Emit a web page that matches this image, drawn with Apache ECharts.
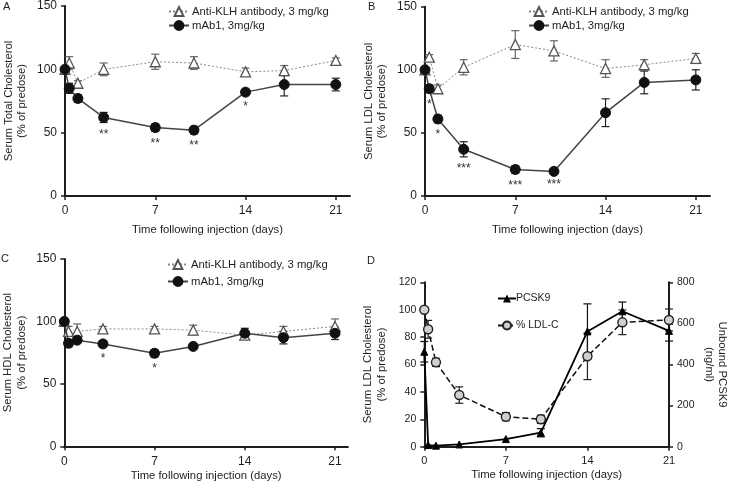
<!DOCTYPE html>
<html><head><meta charset="utf-8">
<script src="https://cdn.jsdelivr.net/npm/echarts@6/dist/echarts.min.js"></script>
<style>html,body{margin:0;padding:0;background:#fff}#c{width:730px;height:488px}</style>
</head><body><div id="c"></div>
<script>
// ---------- data ----------
const days = [0, 0.33, 1, 3, 7, 10, 14, 17, 21];
const xTicks = [0, 7, 14, 21];
const yTicksABC = [0, 50, 100, 150];
const yTicksDLeft = [0, 20, 40, 60, 80, 100, 120];
const yTicksDRight = [0, 200, 400, 600, 800];

const klhName = 'Anti-KLH antibody, 3 mg/kg';
const mabName = 'mAb1, 3mg/kg';

// Panel A: Serum total cholesterol
const klhA = [100, 105, 89, 100, 106, 105, 98, 99, 107];
const klhAErr = [0, 5, 2, 5, 6, 5, 3, 4, 2];
const mabA = [100, 85, 77, 62, 54, 52, 82, 88, 88];
const mabAErr = [0, 4, 3, 4, 3, 3, 2, 9, 5];
const starsA = ['', '', '', '**', '**', '**', '*', '', ''];

// Panel B: Serum LDL cholesterol
const klhB = [100, 110, 85, 102, 120, 115, 101, 104, 109];
const klhBErr = [0, 2, 3, 6, 11, 8, 7, 4, 4];
const mabB = [100, 85, 61, 37, 21, 19.5, 66, 90, 92];
const mabBErr = [0, 3, 3, 6, 3, 1, 11, 9, 8];
const starsB = ['', '*', '*', '***', '***', '***', '', '', ''];

// Panel C: Serum HDL cholesterol
const klhC = [100, 92, 92, 94, 94, 93, 89, 92, 96];
const klhCErr = [0, 4, 6, 2, 2, 4, 3, 4, 6];
const mabC = [100, 82.5, 85, 82, 74.5, 80, 90.5, 87, 90.5];
const mabCErr = [0, 3, 2, 2, 3, 2, 4, 5, 5];
const starsC = ['', '', '', '*', '*', '', '', '', ''];

// Panel D: PCSK9 vs %LDL-C
const ldlD = [100, 85.7, 61.6, 37.7, 21.9, 20, 66, 90.8, 92.5];
const ldlDErr = [0, 6.5, 3, 6, 3, 3, 17, 9, 8];
const pcsk9 = [462, 8, 5, 11, 37, 68, 561, 659, 564];
const pcsk9Err = [50, 0, 0, 0, 0, 20, 134, 45, 50];

// ---------- helpers ----------
const FONT = 'Liberation Sans, Arial, Helvetica, sans-serif';
const INK = '#1e1e1e';
function pairs(xs, ys) { return xs.map((x, i) => [x, ys[i]]); }
function errData(xs, ys, es) { return xs.map((x, i) => [x, ys[i], es[i]]).filter(d => d[2] > 0); }

function errSeries(xi, yi, xs, ys, es, color) {
  return {
    type: 'custom', xAxisIndex: xi, yAxisIndex: yi, z: 2, silent: true,
    data: errData(xs, ys, es), encode: { x: 0, y: 1 },
    renderItem: function (params, api) {
      const x = api.value(0), y = api.value(1), e = api.value(2);
      const t = api.coord([x, y + e]), b = api.coord([x, y - e]);
      const cap = 4;
      const st = { stroke: color, lineWidth: 1.2 };
      return { type: 'group', children: [
        { type: 'line', shape: { x1: t[0], y1: t[1], x2: b[0], y2: b[1] }, style: st },
        { type: 'line', shape: { x1: t[0] - cap, y1: t[1], x2: t[0] + cap, y2: t[1] }, style: st },
        { type: 'line', shape: { x1: b[0] - cap, y1: b[1], x2: b[0] + cap, y2: b[1] }, style: st }
      ] };
    }
  };
}

function starSeries(xi, yi, xs, ys, es, labels) {
  const idx = labels.map((l, i) => l ? i : -1).filter(i => i >= 0);
  const txt = idx.map(i => labels[i]);
  return {
    type: 'custom', xAxisIndex: xi, yAxisIndex: yi, z: 5, silent: true,
    data: idx.map(i => [xs[i], ys[i], es[i]]), encode: { x: 0, y: 1 },
    renderItem: function (params, api) {
      const p = api.coord([api.value(0), api.value(1) - api.value(2)]);
      return { type: 'text', x: p[0], y: p[1] + 6,
        style: { text: txt[params.dataIndex], fill: '#333', fontSize: 12, fontFamily: FONT, align: 'center', verticalAlign: 'top' } };
    }
  };
}

function xAxisCfg(gi, max, gap) {
  return {
    type: 'value', gridIndex: gi, min: 0, max: max,
    name: 'Time following injection (days)', nameLocation: 'middle', nameGap: gap,
    nameTextStyle: { fontSize: 11.3, color: INK, fontFamily: FONT },
    axisLine: { show: true, onZero: false, lineStyle: { color: INK, width: 2 } },
    axisTick: { show: true, length: 4, customValues: xTicks, lineStyle: { color: INK, width: 1.5 } },
    axisLabel: { customValues: xTicks, fontSize: gi === 3 ? 11 : 12, color: INK, fontFamily: FONT, margin: 9 },
    splitLine: { show: false }
  };
}

function yAxisCfg(gi, max, ticks, name, opts) {
  return Object.assign({
    type: 'value', gridIndex: gi, min: 0, max: max,
    name: name, nameLocation: 'middle', nameGap: 36, nameRotate: 90,
    nameTextStyle: { fontSize: 11.3, color: INK, fontFamily: FONT, lineHeight: 13.5, align: 'center' },
    axisLine: { show: true, onZero: false, lineStyle: { color: INK, width: 2 } },
    axisTick: { show: true, length: 4, customValues: ticks, lineStyle: { color: INK, width: 1.5 } },
    axisLabel: { customValues: ticks, fontSize: gi === 3 ? 10.5 : 12, color: INK, fontFamily: FONT, margin: 8 },
    splitLine: { show: false }
  }, opts || {});
}

const grids = [
  { left: 65, top: 6, width: 285, height: 190 },
  { left: 425, top: 6.7, width: 285, height: 189.3 },
  { left: 64.3, top: 259, width: 283.6, height: 187.3 },
  { left: 424.3, top: 282.3, width: 246.7, height: 164.4 }
];

const xAxes = [xAxisCfg(0, 22.1, 28), xAxisCfg(1, 22.1, 28), xAxisCfg(2, 22, 24), xAxisCfg(3, 21, 23)];
const yAxes = [
  yAxisCfg(0, 150, yTicksABC, 'Serum Total Cholesterol\n(% of predose)'),
  yAxisCfg(1, 150, yTicksABC, 'Serum LDL Cholesterol\n(% of predose)'),
  yAxisCfg(2, 150, yTicksABC, 'Serum HDL Cholesterol\n(% of predose)'),
  yAxisCfg(3, 120, yTicksDLeft, 'Serum LDL Cholesterol\n(% of predose)'),
  yAxisCfg(3, 800, yTicksDRight, 'Unbound PCSK9\n(ng/ml)', { position: 'right', nameRotate: -90, nameGap: 33 })
];

const series = [];
const abc = [
  [klhA, klhAErr, mabA, mabAErr, starsA],
  [klhB, klhBErr, mabB, mabBErr, starsB],
  [klhC, klhCErr, mabC, mabCErr, starsC]
];
abc.forEach((p, i) => {
  const [klh, klhE, mab, mabE, st] = p;
  series.push(errSeries(i, i, days, klh, klhE, '#666'));
  series.push(errSeries(i, i, days, mab, mabE, '#222'));
  series.push({
    type: 'line', name: klhName, xAxisIndex: i, yAxisIndex: i, z: 3,
    data: pairs(days, klh), symbol: 'triangle', symbolSize: 10,
    lineStyle: { color: '#8a8a8a', width: 1, type: [2, 2] },
    itemStyle: { color: '#fff', borderColor: '#555', borderWidth: 1.3 }
  });
  series.push({
    type: 'line', name: mabName, xAxisIndex: i, yAxisIndex: i, z: 4,
    data: pairs(days, mab), symbol: 'circle', symbolSize: 10,
    lineStyle: { color: '#444', width: 1.5 },
    itemStyle: { color: '#111', borderColor: '#111', borderWidth: 1 }
  });
  series.push(starSeries(i, i, days, mab, mabE, st));
});

series.push(errSeries(3, 3, days, ldlD, ldlDErr, '#222'));
series.push(errSeries(3, 4, days, pcsk9, pcsk9Err, '#111'));
series.push({
  type: 'line', name: 'PCSK9', xAxisIndex: 3, yAxisIndex: 4, z: 4,
  data: pairs(days, pcsk9), symbol: 'triangle', symbolSize: 7,
  lineStyle: { color: '#000', width: 1.8 },
  itemStyle: { color: '#000', borderColor: '#000' }
});
series.push({
  type: 'line', name: '% LDL-C', xAxisIndex: 3, yAxisIndex: 3, z: 3,
  data: pairs(days, ldlD), symbol: 'circle', symbolSize: 9,
  lineStyle: { color: '#111', width: 1.5, type: [6, 3] },
  itemStyle: { color: '#cfcfcf', borderColor: '#222', borderWidth: 1.4 }
});

function legendAt(left, top, gap) {
  return { data: [klhName, mabName], left: left, top: top, orient: 'vertical',
    itemWidth: 20, itemHeight: 11, itemGap: gap, selectedMode: false,
    textStyle: { fontSize: 11.3, color: INK, fontFamily: FONT, padding: [0, 0, 0, -2] } };
}

const letters = [['A', 3, 1], ['B', 368, 1], ['C', 1, 253], ['D', 367, 255]];

const option = {
  animation: false,
  backgroundColor: '#fff',
  grid: grids,
  xAxis: xAxes,
  yAxis: yAxes,
  legend: [
    legendAt(163, 1, 3), legendAt(523, 1, 3), legendAt(162, 254, 6),
    { data: ['PCSK9', '% LDL-C'], left: 492, top: 288, orient: 'vertical',
      itemWidth: 18, itemHeight: 10, itemGap: 16, selectedMode: false,
      textStyle: { fontSize: 10.5, color: INK, fontFamily: FONT, padding: [0, 0, 0, -5] } }
  ],
  graphic: letters.map(l => ({ type: 'text', left: l[1], top: l[2],
    style: { text: l[0], fontSize: 11, fill: INK, fontFamily: FONT } })),
  series: series
};

const chart = echarts.init(document.getElementById('c'));
chart.setOption(option);
</script>
</body></html>
